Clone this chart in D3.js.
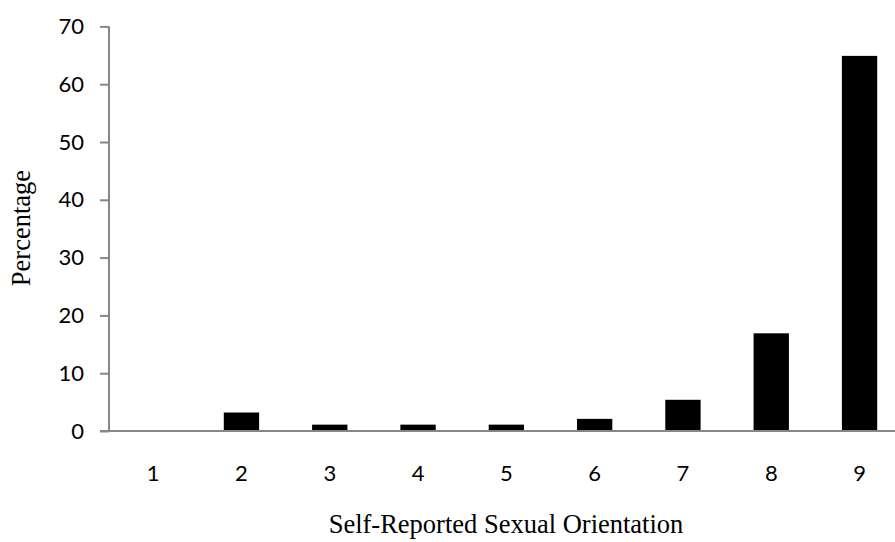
<!DOCTYPE html>
<html>
<head>
<meta charset="utf-8">
<script src="https://cdn.jsdelivr.net/npm/d3@7"></script>
<style>
  html, body { margin: 0; padding: 0; background: #fff; }
  svg { display: block; }
</style>
</head>
<body>
<svg id="chart" width="895" height="542"></svg>
<script>
const categories = ["1", "2", "3", "4", "5", "6", "7", "8", "9"];
const values = [0, 3.2, 1.1, 1.1, 1.1, 2.1, 5.4, 16.9, 64.9];
const yTicks = [0, 10, 20, 30, 40, 50, 60, 70];
const xTitle = "Self-Reported Sexual Orientation";
const yTitle = "Percentage";

const svg = d3.select("#chart");
const mLeft = 109, mRight = 903.7, mTop = 26.4, mBottom = 431;

const x = d3.scaleBand().domain(categories).range([mLeft, mRight])
  .paddingInner(0.6).paddingOuter(0.3);
const y = d3.scaleLinear().domain([0, 70]).range([mBottom, mTop]);

// bars
svg.append("g").selectAll("rect").data(categories).join("rect")
  .attr("x", d => x(d))
  .attr("width", x.bandwidth())
  .attr("y", (d, i) => y(values[i]))
  .attr("height", (d, i) => y(0) - y(values[i]))
  .attr("fill", "#000");

// y axis
const yAxis = svg.append("g").attr("transform", `translate(${mLeft},0)`)
  .call(d3.axisLeft(y).tickValues(yTicks).tickSize(9).tickPadding(16).tickFormat(d3.format("d")));
yAxis.select(".domain").attr("stroke", "#868686").attr("stroke-width", 2)
  .attr("d", `M0,${mTop}V${mBottom}`);
yAxis.selectAll(".tick line").attr("stroke", "#868686").attr("stroke-width", 2);
yAxis.selectAll(".tick text").attr("fill", "#000")
  .style("font-family", "Lato, 'Open Sans', sans-serif").style("font-size", "22px");

// x axis
const xAxis = svg.append("g").attr("transform", `translate(0,${mBottom})`)
  .call(d3.axisBottom(x).tickSize(0).tickPadding(34));
xAxis.select(".domain").attr("stroke", "#868686").attr("stroke-width", 2)
  .attr("d", `M${mLeft - 9},0H${mRight}`);
xAxis.selectAll(".tick text").attr("fill", "#000")
  .style("font-family", "Lato, 'Open Sans', sans-serif").style("font-size", "22px");

// titles
svg.append("text")
  .attr("x", 506).attr("y", 533)
  .attr("text-anchor", "middle")
  .style("font-family", "'Liberation Serif', 'Times New Roman', serif")
  .style("font-size", "26.5px")
  .text(xTitle);

svg.append("text")
  .attr("transform", "translate(29.5,228) rotate(-90)")
  .attr("text-anchor", "middle")
  .style("font-family", "'Liberation Serif', 'Times New Roman', serif")
  .style("font-size", "26.5px")
  .text(yTitle);
</script>
</body>
</html>
